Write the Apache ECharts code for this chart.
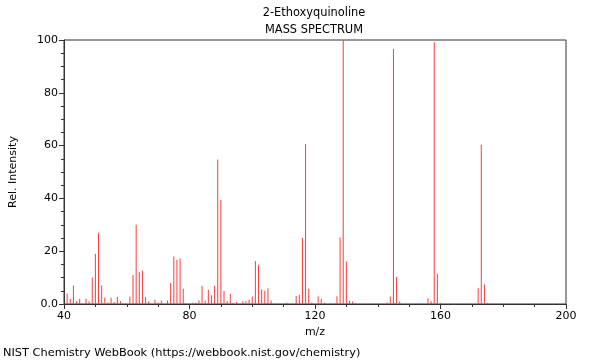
<!DOCTYPE html>
<html>
<head>
<meta charset="utf-8">
<script src="https://cdn.jsdelivr.net/npm/echarts@6/dist/echarts.min.js"></script>
<style>html,body{margin:0;padding:0;background:#fff;}#c{width:600px;height:360px;}</style>
</head>
<body>
<div id="c"></div>
<script>
const mz = [41,42,43,44,45,47,48,49,50,51,52,53,54,55,56,57,58,61,62,63,64,65,66,67,69,70,71,73,74,75,76,77,78,81,82,83,84,85,86,87,88,89,90,91,92,93,94,95,97,98,99,100,101,102,103,104,105,106,111,114,115,116,117,118,119,121,122,123,125,127,128,129,130,131,132,133,143,144,145,146,147,156,157,158,159,160,172,173,174,175];
const intensity = [4,2,7,1,2,2,1,10,19,27,7,2.5,0.6,2.4,0.8,2.7,1,2.7,11,30,12,12.6,2.6,1,1.6,0.6,1.3,1.3,8,18,16.8,17.2,5.8,0.5,0.5,1.3,6.8,1.2,5.4,3.3,6.9,54.7,39.4,5,1,3.8,0.4,0.8,1,1,1.6,2.8,16.3,14.9,5.5,5,6,1.3,0.5,3,3.5,25,60.6,5.8,0.6,2.8,1.9,0.6,0.3,2.9,25.2,100,16.1,1.2,0.9,0.4,0.6,2.8,96.6,10.3,0.9,2.2,1,99.2,11.5,0.4,6,60.3,7.4,0.4];
const xTicks = [40,80,120,160,200];
const yTicks = [0,20,40,60,80,100];
const titleLines = ['2-Ethoxyquinoline','MASS SPECTRUM'];
const footer = 'NIST Chemistry WebBook (https://webbook.nist.gov/chemistry)';

const chart = echarts.init(document.getElementById('c'), null, {renderer:'canvas'});
const font = 'DejaVu Sans';
const axisColor = '#333';
chart.setOption({
  animation:false,
  textStyle:{fontFamily:font},
  grid:{left:62,right:34,top:40,bottom:56,show:true,borderColor:axisColor,borderWidth:1,backgroundColor:'transparent'},
  xAxis:{
    type:'value', min:xTicks[0], max:xTicks[xTicks.length-1], interval:40,
    name:'m/z', nameLocation:'middle', nameGap:23,
    nameTextStyle:{fontFamily:font,fontSize:11,color:'#000'},
    axisLine:{show:true,lineStyle:{color:axisColor}},
    axisTick:{show:true,length:5,lineStyle:{color:axisColor}},
    minorTick:{show:true,splitNumber:4,length:3,lineStyle:{color:axisColor}},
    splitLine:{show:false},
    axisLabel:{fontFamily:font,fontSize:11,color:'#000',margin:7}
  },
  yAxis:{
    type:'value', min:yTicks[0], max:yTicks[yTicks.length-1], interval:20,
    name:'Rel. Intensity', nameLocation:'middle', nameGap:45, nameRotate:90,
    nameTextStyle:{fontFamily:font,fontSize:11,color:'#000'},
    axisLine:{show:true,lineStyle:{color:axisColor}},
    axisTick:{show:true,length:5,lineStyle:{color:axisColor}},
    minorTick:{show:true,splitNumber:4,length:3,lineStyle:{color:axisColor}},
    splitLine:{show:false},
    axisLabel:{fontFamily:font,fontSize:11,color:'#000',margin:6,
      formatter:v=> v===0 ? '0.0' : String(v)}
  },
  graphic:[
    {type:'text', x:314, y:13,
     style:{text:titleLines[0],fontFamily:font,fontSize:11.4,fill:'#000',align:'center',verticalAlign:'middle'}},
    {type:'text', x:314, y:30,
     style:{text:titleLines[1],fontFamily:font,fontSize:11.4,fill:'#000',align:'center',verticalAlign:'middle'}},
    {type:'text', x:3, y:353,
     style:{text:footer,fontFamily:font,fontSize:11.35,fill:'#000',align:'left',verticalAlign:'middle'}}
  ],
  series:[{
    type:'bar',
    data:mz.map((m,i)=>[m,intensity[i]]),
    barWidth:1,
    itemStyle:{color:'#ff3b3b'},
    silent:true
  }]
});
</script>
</body>
</html>
